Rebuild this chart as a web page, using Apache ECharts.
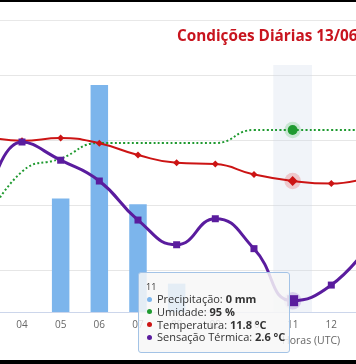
<!DOCTYPE html>
<html>
<head>
<meta charset="utf-8">
<script src="https://cdn.jsdelivr.net/npm/echarts@6/dist/echarts.min.js"></script>
<style>
  html, body { margin: 0; padding: 0; background: #fff; width: 356px; height: 364px; overflow: hidden; }
  #c { position: absolute; left: 0; top: 0; width: 356px; height: 364px; }
  .bar { position: absolute; left: 0; width: 356px; background: #000; z-index: 20; }
  .rule { position: absolute; left: 0; top: 20px; width: 356px; height: 1px; background: #e8e8e8; }
</style>
</head>
<body>
<div class="rule"></div>
<div id="c"></div>
<div class="bar" style="top:0;height:2px"></div>
<div class="bar" style="top:360px;height:4px"></div>
<script>
// ---- data ----
const hours        = ['03','04','05','06','07','08','09','10','11','12','13'];
const precipitacao = [0, 0, 0.8, 1.6, 0.76, 0.2, 0, 0, 0, 0, 0];          // mm
const umidade      = [80, 88.6, 90.6, 93, 93, 93, 93, 95, 95, 95, 95];     // %
const temperatura  = [15.3, 14.9, 15.1, 14.7, 13.8, 13.2, 13.1, 12.3, 11.8, 11.6, 12.1]; // °C
const sensacao     = [8.3, 14.8, 13.4, 11.8, 8.8, 6.9, 8.9, 6.6, 2.6, 3.8, 7.0];         // °C
const gridTicks    = [5, 10, 15, 20];   // temperature grid lines
const hoverIndex   = 8;                 // hour "11" shown in the tooltip
const titleText    = 'Condições Diárias 13/06';
const axisTitle    = 'Horas (UTC)';

const C_PREC = '#7cb5ec', C_UMI = '#1f9a30', C_TEMP = '#cc1414', C_SENS = '#5a1c9e';
const FONT = 'Open Sans';

function lineData(arr, size, hoverSize, symbol) {
  return arr.map((v, i) => i === hoverIndex
    ? { value: v, symbol: symbol, symbolSize: hoverSize }
    : (size ? { value: v } : { value: v, symbol: 'none' }));
}
function haloData(arr) {
  return [[hours[hoverIndex], arr[hoverIndex]]];
}

const chart = echarts.init(document.getElementById('c'), null, { renderer: 'canvas' });
const gridL = -36, gridR = -33.3;

chart.setOption({
  animation: false,
  backgroundColor: 'transparent',
  title: {
    text: titleText, left: 177, top: 29.5, padding: 0,
    textStyle: { color: '#c8141e', fontFamily: FONT, fontSize: 15.3, fontWeight: 'bold' }
  },
  grid: [
    { show: false, borderWidth: 0, left: gridL, right: gridR, top: 65, bottom: 52, containLabel: false, outerBoundsMode: 'none' },
    { show: false, borderWidth: 0, left: gridL, right: gridR, top: 75, height: 195, containLabel: false, outerBoundsMode: 'none' }
  ],
  tooltip: {
    trigger: 'axis', triggerOn: 'none', alwaysShowContent: true,
    position: [138, 272], transitionDuration: 0, confine: false,
    backgroundColor: 'rgba(247,247,247,0.85)', borderColor: '#a3c3e6', borderWidth: 1,
    padding: [8, 4, 8, 7],
    textStyle: { fontFamily: FONT, fontSize: 11, color: '#333' },
    extraCssText: 'box-shadow:none;border-radius:3px;',
    axisPointer: { type: 'shadow', z: 0, triggerEmphasis: false,
      shadowStyle: { color: 'rgba(204,214,235,0.28)' } },
    formatter: function () {
      const i = hoverIndex;
      const row = (c, label, val) =>
        '<div style="line-height:12.8px;white-space:nowrap">' +
        '<span style="display:inline-block;width:5px;height:5px;border-radius:50%;background:' + c +
        ';vertical-align:middle;margin:0 5px 2px 1px"></span>' + label + ': <b>' + val + '</b></div>';
      return '<div style="font-size:9px;line-height:12px">' + hours[i] + '</div>' +
        row(C_PREC, 'Precipitação', precipitacao[i] + ' mm') +
        row(C_UMI, 'Umidade', umidade[i] + ' %') +
        row(C_TEMP, 'Temperatura', temperatura[i].toFixed(1) + ' °C') +
        row(C_SENS, 'Sensação Térmica', sensacao[i].toFixed(1) + ' °C');
    }
  },
  xAxis: [
    {
      type: 'category', gridIndex: 0, data: hours, boundaryGap: true,
      axisLine: { lineStyle: { color: '#ccd6eb', width: 1 } },
      axisTick: { show: false },
      axisLabel: { color: '#666', fontFamily: FONT, fontSize: 10, margin: 8 },
      splitLine: { show: false },
      name: axisTitle, nameLocation: 'end', nameGap: -107.3, nameMoveOverlap: false,
      nameTextStyle: { color: '#666', fontFamily: FONT, fontSize: 10.5,
        align: 'left', verticalAlign: 'top', padding: [24, 0, 0, 0] }
    },
    { type: 'category', gridIndex: 1, data: hours, show: false, axisPointer: { show: false } }
  ],
  yAxis: [
    { type: 'value', gridIndex: 0, min: 1.73, max: 20.72, show: false, axisLine: { show: false }, splitLine: { show: false } },
    { type: 'value', gridIndex: 0, min: 67, max: 105, show: false, axisLine: { show: false }, splitLine: { show: false } },
    { type: 'value', gridIndex: 0, min: 0, max: 1.741, show: false, axisLine: { show: false }, splitLine: { show: false } },
    { type: 'value', gridIndex: 1, min: gridTicks[0], max: gridTicks[gridTicks.length - 1],
      interval: gridTicks[1] - gridTicks[0],
      axisLine: { show: false }, axisTick: { show: false }, axisLabel: { show: false },
      splitLine: { show: true, lineStyle: { color: '#e6e6e6', width: 1 } } }
  ],
  series: [
    {
      name: 'Precipitação', type: 'bar', xAxisIndex: 0, yAxisIndex: 2,
      data: precipitacao, barWidth: 17.5, z: 2,
      itemStyle: { color: C_PREC, borderWidth: 0 }
    },
    {
      name: 'halo-umi', type: 'scatter', xAxisIndex: 0, yAxisIndex: 1, data: haloData(umidade),
      symbol: 'circle', symbolSize: 15, itemStyle: { color: 'rgba(31,154,48,0.25)' }, z: 3, silent: true
    },
    {
      name: 'halo-temp', type: 'scatter', xAxisIndex: 0, yAxisIndex: 0, data: haloData(temperatura),
      symbol: 'circle', symbolSize: 15, itemStyle: { color: 'rgba(204,20,20,0.25)' }, z: 3, silent: true
    },
    {
      name: 'halo-sens', type: 'scatter', xAxisIndex: 0, yAxisIndex: 0, data: haloData(sensacao),
      symbol: 'circle', symbolSize: 16, itemStyle: { color: 'rgba(90,28,158,0.22)' }, z: 3, silent: true
    },
    {
      name: 'Umidade', type: 'line', xAxisIndex: 0, yAxisIndex: 1, smooth: true, z: 4,
      data: lineData(umidade, 0, 9, 'circle'), showSymbol: true, symbol: 'circle',
      lineStyle: { color: C_UMI, width: 2, type: [2, 2.3] },
      itemStyle: { color: C_UMI, borderWidth: 0 },
      emphasis: { disabled: true }
    },
    {
      name: 'Temperatura', type: 'line', xAxisIndex: 0, yAxisIndex: 0, smooth: true, z: 5,
      data: lineData(temperatura, 7, 9, 'diamond'), showSymbol: true, symbol: 'diamond', symbolSize: 7,
      lineStyle: { color: C_TEMP, width: 2 },
      itemStyle: { color: C_TEMP, borderWidth: 0 },
      emphasis: { disabled: true }
    },
    {
      name: 'Sensação Térmica', type: 'line', xAxisIndex: 0, yAxisIndex: 0, smooth: true, z: 6,
      data: lineData(sensacao, 7, 10, 'rect'), showSymbol: true, symbol: 'rect', symbolSize: 7,
      lineStyle: { color: C_SENS, width: 3 },
      itemStyle: { color: C_SENS, borderWidth: 0 },
      emphasis: { disabled: true }
    }
  ]
});

chart.dispatchAction({ type: 'showTip', seriesIndex: 0, dataIndex: hoverIndex });
</script>
</body>
</html>
